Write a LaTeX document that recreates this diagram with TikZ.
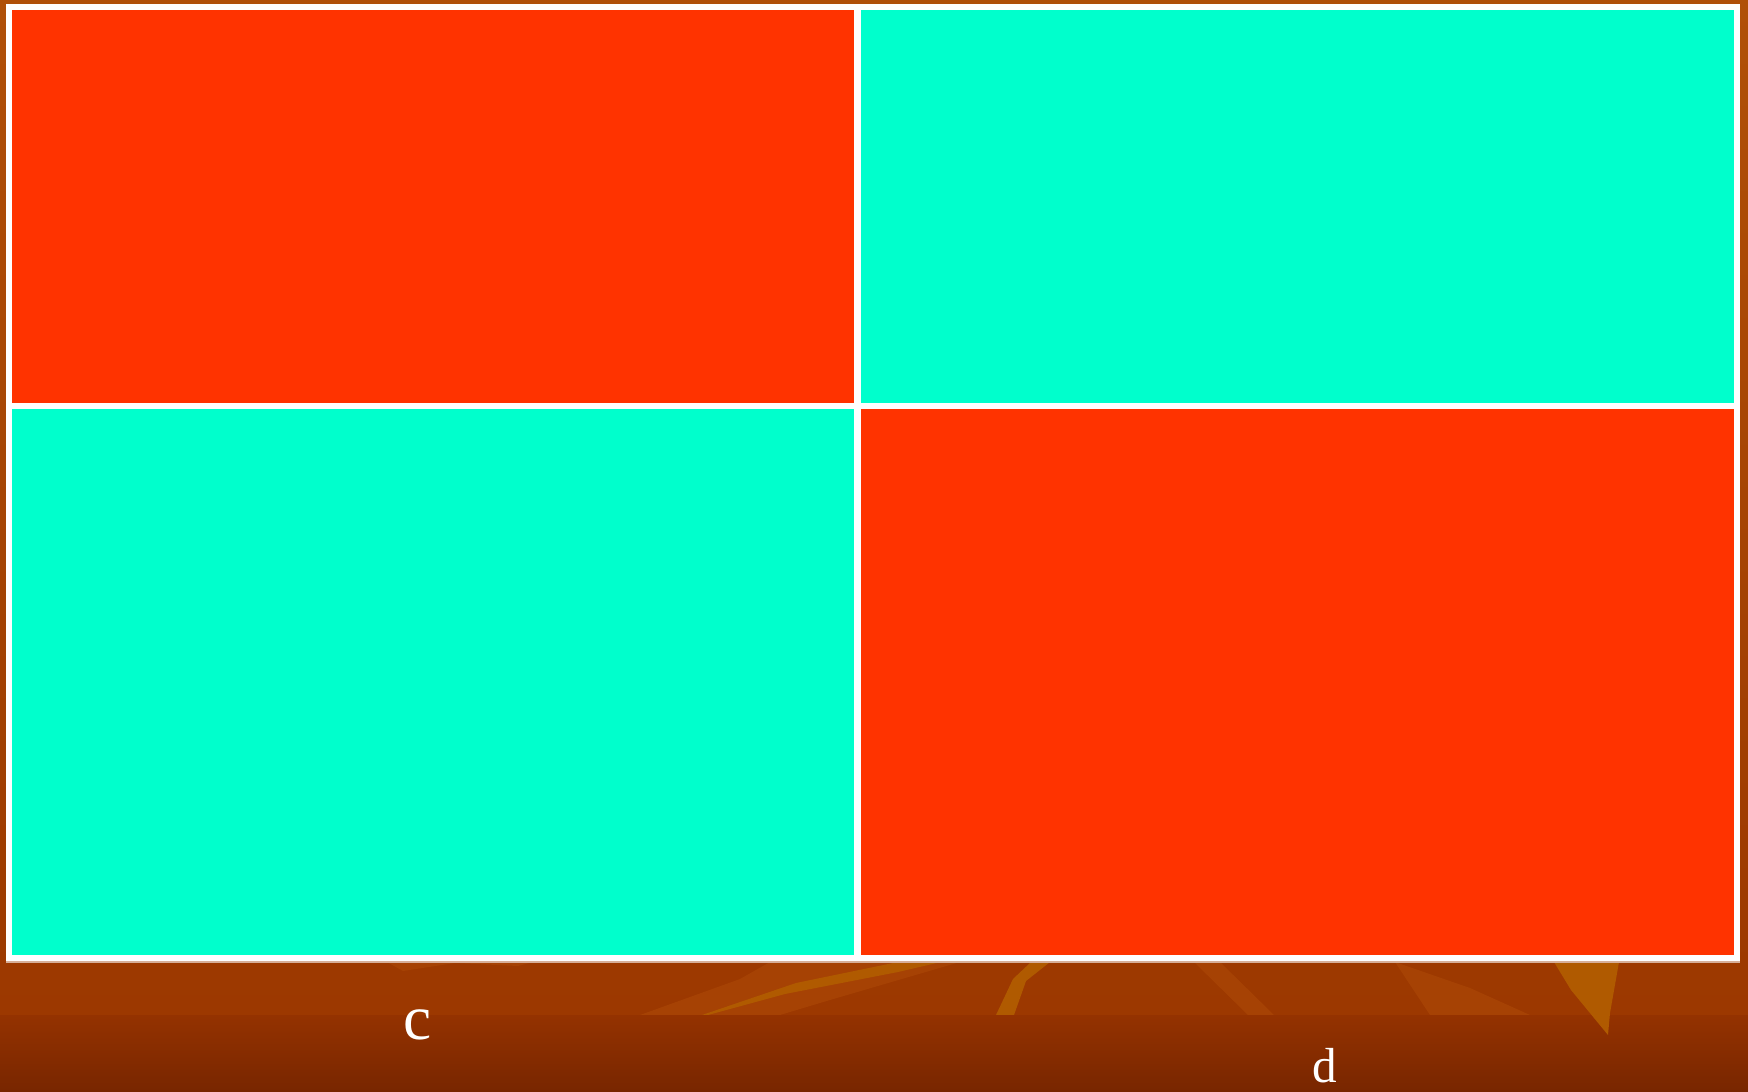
\documentclass[tikz,border=0pt]{standalone}
\usepackage{fontspec}
\setmainfont{Liberation Serif}
\usetikzlibrary{positioning}
\definecolor{hotred}{HTML}{FF3300}
\definecolor{aqua}{HTML}{00FFCC}
\definecolor{rusttop}{HTML}{B05008}
\definecolor{rustmid}{HTML}{9C3800}
\definecolor{rustlow}{HTML}{943200}
\definecolor{rustbot}{HTML}{782600}
\definecolor{streak}{HTML}{B05A00}
\definecolor{streakfaint}{HTML}{A64204}

\begin{document}
\begin{tikzpicture}[x=0.02cm, y=-0.02cm, every node/.style={inner sep=0pt, text=white},
	cell/.style={draw=none}, lbl/.style={font=\fontsize{36}{42}\selectfont}]
	\useasboundingbox (0,0) rectangle (1748,1092);
	\shade[top color=rusttop, bottom color=rustmid] (0,0) rectangle (1748,1015);
	\fill[streakfaint] (387,962) -- (403,971) -- (455,963) -- (518,966) -- (533,962) -- cycle;
	\fill[streakfaint] (640,1015) -- (740,979) -- (770,962) -- (960,962) -- (830,1000) -- (780,1015) -- cycle;
	\fill[streakfaint] (1194,962) -- (1220,962) -- (1274,1015) -- (1248,1015) -- cycle;
	\fill[streakfaint] (1395,962) -- (1470,988) -- (1530,1015) -- (1430,1015) -- cycle;
	\fill[streak] (702,1015) -- (796,983) -- (898,962) -- (941,962) -- (898,972) -- (785,994) -- (708,1015) -- cycle;
	\fill[streak] (996,1015) -- (1013,979) -- (1031,962) -- (1050,962) -- (1026,981) -- (1014,1015) -- cycle;
	\shade[top color=rustlow, bottom color=rustbot] (0,1015) rectangle (1748,1092);
	\fill[streak] (1554,962) -- (1619,962) -- (1610,1013) -- (1608,1035) -- (1571,990) -- cycle;
	\fill[white!60!rustmid] (6,961) rectangle (1740,963);
	\fill[white] (6,4) rectangle (1740,961);
	\fill[cell, hotred] (12,10) rectangle (854,403);
	\fill[cell, aqua] (861,10) rectangle (1734,403);
	\fill[cell, aqua] (12,409) rectangle (854,955);
	\fill[cell, hotred] (861,409) rectangle (1734,955);
	\node[lbl] (labc) at (418,1025) {c};
	\node[lbl, font=\fontsize{28}{32}\selectfont] (labd) at (1325,1066) {d};
\end{tikzpicture}
\end{document}
